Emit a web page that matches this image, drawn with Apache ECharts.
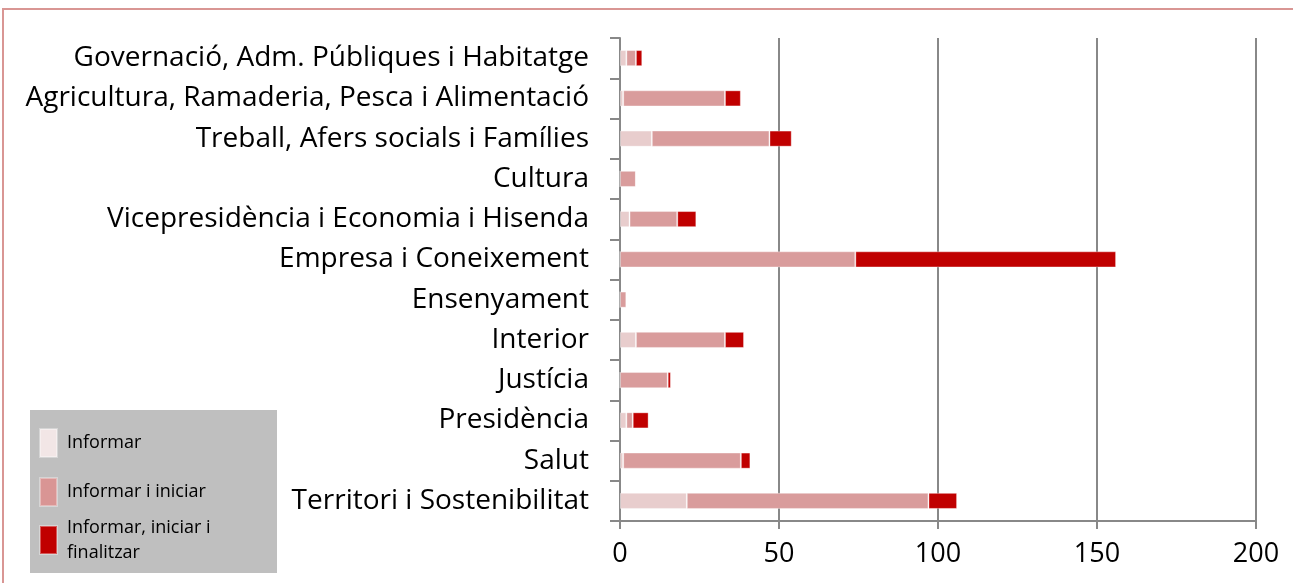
<!DOCTYPE html>
<html>
<head>
<meta charset="utf-8">
<script src="https://cdn.jsdelivr.net/npm/echarts@6/dist/echarts.min.js"></script>
<style>
  html, body { margin: 0; padding: 0; background: #fff; }
  #chart { width: 1293px; height: 583px; }
</style>
</head>
<body>
<div id="chart"></div>
<script>
// departaments (de dalt a baix)
const categories = [
  'Governació, Adm. Públiques i Habitatge',
  'Agricultura, Ramaderia, Pesca i Alimentació',
  'Treball, Afers socials i Famílies',
  'Cultura',
  'Vicepresidència i Economia i Hisenda',
  'Empresa i Coneixement',
  'Ensenyament',
  'Interior',
  'Justícia',
  'Presidència',
  'Salut',
  'Territori i Sostenibilitat'
]
const informar = [2, 1, 10, 0, 3, 0, 0, 5, 0, 2, 1, 21]
const informarIniciar = [3, 32, 37, 5, 15, 74, 2, 28, 15, 2, 37, 76]
const informarFinalitzar = [2, 5, 7, 0, 6, 82, 0, 6, 1, 5, 3, 9]
const xTicks = [0, 50, 100, 150, 200]

const seriesNames = ['Informar', 'Informar i iniciar', 'Informar, iniciar i finalitzar']
const color = ['#E8CDCD', '#D99C9C', '#C00000']
const legendColor = ['#F2E6E6', '#D99594', '#C00000']
const legendTop = [428, 477, 515]

const myChart = echarts.init(document.getElementById('chart'))

function barSeries(name, data, i) {
  return {
    name: name,
    type: 'bar',
    stack: 'total',
    barWidth: '40%',
    data: data,
    itemStyle: {
      color: color[i],
      borderColor: 'rgba(255,255,255,0.35)',
      borderWidth: 1
    },
    emphasis: { disabled: true }
  }
}

// una llegenda per element, per posar-les com a l'original
function legendItem(i) {
  return {
    left: 39,
    top: legendTop[i],
    padding: 0,
    itemWidth: 17,
    itemHeight: 28,
    icon: 'rect',
    data: [{ name: seriesNames[i], itemStyle: { color: legendColor[i] } }],
    formatter: function (n) {
      return n === seriesNames[2] ? 'Informar, iniciar i\nfinalitzar' : n
    },
    textStyle: { fontFamily: 'Open Sans', fontSize: 18, color: '#000', lineHeight: 25, padding: [0, 0, 0, 5] },
    selectedMode: false
  }
}

const option = {
  animation: false,
  textStyle: { fontFamily: 'Open Sans' },
  graphic: [
    // marc exterior
    {
      type: 'rect',
      shape: { x: 3, y: 9, width: 1310, height: 600 },
      style: { fill: 'none', stroke: '#D99694', lineWidth: 2 },
      z: 0
    },
    // fons de la llegenda
    {
      type: 'rect',
      shape: { x: 30, y: 410, width: 247, height: 163 },
      style: { fill: '#BFBFBF' },
      z: 0
    }
  ],
  grid: { left: 620, right: 37, top: 38, bottom: 62, containLabel: false },
  legend: [legendItem(0), legendItem(1), legendItem(2)],
  xAxis: {
    type: 'value',
    min: xTicks[0],
    max: xTicks[xTicks.length - 1],
    interval: 50,
    axisLine: { show: true, lineStyle: { color: '#888', width: 2 } },
    axisTick: { show: true, length: 8, lineStyle: { color: '#888', width: 2 } },
    splitLine: { show: true, lineStyle: { color: '#888', width: 2 } },
    axisLabel: { color: '#000', fontSize: 27, margin: 20, fontFamily: 'Open Sans' }
  },
  yAxis: {
    type: 'category',
    inverse: true,
    data: categories,
    axisLine: { show: true, lineStyle: { color: '#888', width: 2 } },
    axisTick: { show: true, length: 10, alignWithLabel: false, lineStyle: { color: '#888', width: 2 } },
    axisLabel: { color: '#000', fontSize: 28, margin: 31, fontFamily: 'Open Sans' }
  },
  series: [
    barSeries(seriesNames[0], informar, 0),
    barSeries(seriesNames[1], informarIniciar, 1),
    barSeries(seriesNames[2], informarFinalitzar, 2)
  ]
}
myChart.setOption(option)
</script>
</body>
</html>
